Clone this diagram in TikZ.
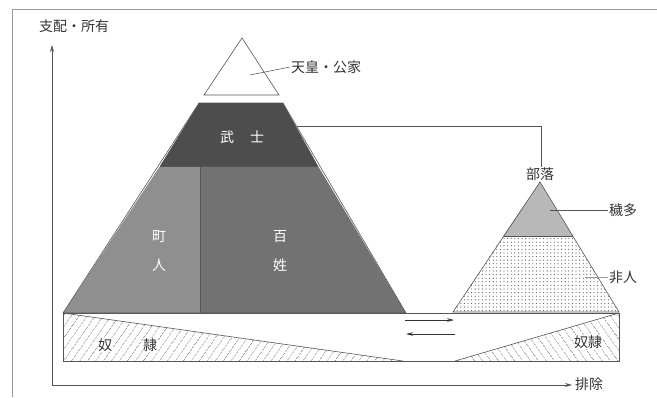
\documentclass[tikz,border=0pt]{standalone}
\usepackage{fontspec}
\setmainfont{Noto Sans CJK JP}
\usetikzlibrary{patterns.meta,arrows.meta}
\definecolor{linec}{HTML}{555555}
\definecolor{bushic}{HTML}{4D4D4D}
\definecolor{hyakuc}{HTML}{727272}
\definecolor{chonc}{HTML}{8F8F8F}
\definecolor{etac}{HTML}{B8B8B8}
\definecolor{framec}{HTML}{9A9A9A}
\tikzset{
  outl/.style={draw=linec, line width=0.6pt, line join=miter},
  lbl/.style={font=\fontsize{14}{15}\selectfont, text=black!80, inner sep=1pt},
  wlbl/.style={font=\fontsize{14}{15}\selectfont, text=white, inner sep=1pt},
  leader/.style={draw=linec, line width=0.5pt},
  axis/.style={draw=linec, line width=0.6pt, -{Stealth[length=7pt,width=4pt]}},
  flow/.style={draw=black!80, line width=0.6pt, -{Stealth[length=7pt,width=3.5pt]}},
}
\begin{document}
\begin{tikzpicture}[x=1pt,y=-1pt]
\useasboundingbox (0,0) rectangle (657,397);
% frame
\draw[framec, line width=0.6pt] (657,9) -- (12,9) -- (12,397);
% axes
\coordinate (origin) at (52,385);
\coordinate (ytop) at (52,45);
\coordinate (xend) at (572,385);
\draw[axis] (origin) -- (ytop);
\draw[axis] (origin) -- (xend);
\node[lbl, anchor=south] (ylab) at (74,34) {支配・所有};
\node[lbl, anchor=west] (xlab) at (574,384) {排除};
% bottom box and hatched wedges
\fill[pattern={Lines[angle=55,distance=6.5pt,line width=0.5pt]}, pattern color=linec] (63,313) -- (63,361) -- (403,361) -- cycle;
\fill[pattern={Lines[angle=125,distance=6.5pt,line width=0.5pt]}, pattern color=linec] (619,313) -- (619,361) -- (455,361) -- cycle;
\draw[outl] (63,313) -- (403,361);
\draw[outl] (619,313) -- (455,361);
\draw[outl] (63,313) rectangle (619,361);
\node[lbl, fill=white, inner sep=0.5pt] (dorei1) at (105,345) {奴};
\node[lbl, fill=white, inner sep=0.5pt] (dorei2) at (150,345) {隷};
\node[lbl, fill=white, inner sep=0.5pt] (dorei3) at (588,342) {奴隷};
% arrows between
\coordinate (a1s) at (405,320);
\coordinate (a1e) at (454,320);
\coordinate (a2s) at (455,334);
\coordinate (a2e) at (406,334);
\draw[flow] (a1s) -- (a1e);
\draw[flow] (a2s) -- (a2e);
% main pyramid
\fill[chonc] (63,313) -- (160,166) -- (200,166) -- (200,313) -- cycle;
\fill[hyakuc] (200,166) -- (318,166) -- (406,313) -- (200,313) -- cycle;
\draw[outl] (200,166) -- (200,313);
\fill[bushic] (199,103) -- (283,103) -- (318,166) -- (160,166) -- cycle;
\draw[outl] (199,103) -- (283,103) -- (406,313) -- (63,313) -- cycle;
\draw[outl] (160,166) -- (318,166);
\node[wlbl] (bu) at (227,137) {武};
\node[wlbl] (shi) at (257,137) {士};
\node[wlbl] (cho) at (159,237) {町};
\node[wlbl] (nin) at (159,265) {人};
\node[wlbl] (hyaku) at (280,237) {百};
\node[wlbl] (sho) at (280,265) {姓};
% emperor triangle
\draw[outl, fill=white] (242,38) -- (279,95) -- (204,95) -- cycle;
\coordinate (tennoin) at (250,75);
\node[lbl, anchor=west] (tenno) at (290,67) {天皇・公家};
\draw[leader] (tennoin) -- (tenno.west);
% buraku pyramid
\fill[etac] (540,182) -- (573,236) -- (503,236) -- cycle;
\fill[pattern={Dots[distance=3.6pt,radius=0.6pt]}, pattern color=black!65] (503,236) -- (573,236) -- (619,312) -- (453,312) -- cycle;
\draw[outl] (540,182) -- (619,312) -- (453,312) -- cycle;
\draw[outl] (503,236) -- (573,236);
\node[lbl, anchor=south] (buraku) at (540,182) {部落};
\coordinate (bushiR) at (297,126);
\coordinate (corner) at (541,126);
\draw[leader] (bushiR) -- (corner) -- (buraku.north -| corner);
\coordinate (etain) at (550,210);
\node[lbl, anchor=west] (eta) at (608,210) {穢多};
\draw[leader] (etain) -- (eta.west);
\coordinate (hininin) at (585,277);
\node[lbl, anchor=west] (hinin) at (608,277) {非人};
\draw[leader, draw=linec!60] (hininin) -- (hinin.west);
\end{tikzpicture}
\end{document}
